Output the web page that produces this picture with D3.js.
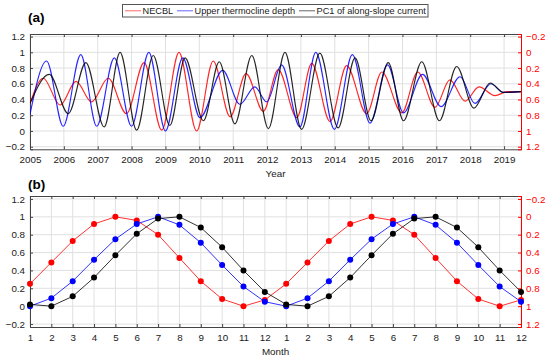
<!DOCTYPE html>
<html><head><meta charset="utf-8">
<script src="https://cdn.jsdelivr.net/npm/d3@7"></script>
<style>
body{margin:0;background:#fff;}
svg{display:block;font-family:"Liberation Sans",Arial,sans-serif;}
</style></head>
<body><svg id="c" width="550" height="361"></svg>
<script>
// ---------- Panel (a) data: extrema ----------
const redT   = [2005.0,2005.39,2005.89,2006.36,2006.82,2007.31,2007.85,2008.37,2008.89,2009.40,2009.92,2010.41,2010.91,2011.38,2011.89,2012.33,2012.88,2013.32,2013.86,2014.35,2014.94,2015.39,2015.98,2016.45,2016.96,2017.40,2017.85,2018.26,2018.73,2019.10,2019.5];
const redV   = [0.65,0.33,0.67,0.37,0.63,0.33,0.78,0.13,0.99,0.00,1.00,0.11,0.82,0.27,0.75,0.22,0.83,0.14,0.88,0.17,0.78,0.25,0.77,0.25,0.70,0.35,0.62,0.44,0.55,0.50,0.50]; // right axis (reversed)
const blueT  = [2005.0,2005.49,2005.98,2006.50,2006.97,2007.49,2008.00,2008.51,2009.00,2009.51,2010.02,2010.69,2011.20,2011.64,2011.99,2012.43,2012.97,2013.44,2013.99,2014.52,2015.04,2015.56,2016.03,2016.59,2017.14,2017.70,2018.14,2018.61,2018.98,2019.5];
const blueV  = [0.21,0.89,0.06,0.97,0.06,0.93,0.06,1.00,0.00,0.93,0.17,0.77,0.34,0.56,0.37,0.84,0.05,1.00,0.02,0.97,0.10,0.84,0.23,0.72,0.31,0.69,0.35,0.60,0.49,0.50];
const blackT = [2005.0,2005.57,2006.13,2006.65,2007.19,2007.66,2008.15,2008.64,2009.13,2009.58,2010.12,2010.59,2011.05,2011.55,2012.04,2012.53,2013.02,2013.56,2014.10,2014.60,2015.07,2015.58,2016.03,2016.57,2017.09,2017.60,2018.11,2018.59,2018.98,2019.5];
const blackV = [0.35,0.72,0.22,0.87,0.05,1.00,0.01,0.96,0.07,0.93,0.13,0.88,0.09,0.96,0.03,1.00,0.02,0.99,0.04,0.93,0.13,0.87,0.13,0.88,0.13,0.82,0.29,0.61,0.49,0.50];
const yearTicks = d3.range(2005, 2020);

// ---------- Panel (b) data: monthly climatology (shown twice) ----------
const monthLabels = [1,2,3,4,5,6,7,8,9,10,11,12,1,2,3,4,5,6,7,8,9,10,11,12];
const redM   = [0.75,0.51,0.27,0.08,0.00,0.04,0.20,0.46,0.72,0.92,1.00,0.93]; // right axis (reversed)
const blueM  = [0.00,0.09,0.28,0.52,0.75,0.92,1.00,0.91,0.71,0.46,0.22,0.05];
const blackM = [0.02,0.00,0.11,0.32,0.57,0.81,0.98,1.00,0.88,0.66,0.40,0.16];

const leftTicks  = [-0.2,0,0.2,0.4,0.6,0.8,1,1.2];
const rightTicks = [-0.2,0,0.2,0.4,0.6,0.8,1,1.2];
const legendItems = [
  {label:"NECBL", color:"#ff0000"},
  {label:"Upper thermocline depth", color:"#0000ff"},
  {label:"PC1 of along-slope current", color:"#000000"}
];

const svg = d3.select("#c");
const fmt = v => (v < 0 ? "\u2212" + Math.abs(v) : String(v));
const RED = "#ff0000";

function panel(cfg){
  const {x0,x1,y0,y1,xDomain,xTicks,xLabel,xFmt,title,titleY,axisLabelY} = cfg;
  const x = d3.scaleLinear().domain(xDomain).range([x0,x1]);
  const yL = d3.scaleLinear().domain([-0.233,1.233]).range([y1,y0]);
  const yR = d3.scaleLinear().domain([-0.233,1.233]).range([y0,y1]);
  const g = svg.append("g");
  g.selectAll(".gx").data(xTicks).join("line")
    .attr("x1",d=>x(d)).attr("x2",d=>x(d)).attr("y1",y0).attr("y2",y1)
    .attr("stroke","#e0e0e0").attr("stroke-width",1);
  g.selectAll(".gy").data(leftTicks).join("line")
    .attr("x1",x0).attr("x2",x1).attr("y1",d=>yL(d)).attr("y2",d=>yL(d))
    .attr("stroke","#e0e0e0").attr("stroke-width",1);
  const bx = d3.axisBottom(x).tickValues(xTicks).tickSize(-3).tickPadding(7).tickFormat(xFmt);
  const gb = g.append("g").attr("transform",`translate(0,${y1})`).call(bx);
  gb.select(".domain").attr("stroke","#444");
  gb.selectAll(".tick line").attr("stroke","#444");
  gb.selectAll("text").attr("font-size","9.8px").attr("fill","#1a1a1a");
  const tx = d3.axisTop(x).tickValues(xTicks).tickSize(-3).tickFormat("");
  const gt = g.append("g").attr("transform",`translate(0,${y0})`).call(tx);
  gt.select(".domain").attr("stroke","#444");
  gt.selectAll(".tick line").attr("stroke","#444");
  const la = d3.axisLeft(yL).tickValues(leftTicks).tickSize(-3).tickPadding(5).tickFormat(fmt);
  const gl = g.append("g").attr("transform",`translate(${x0},0)`).call(la);
  gl.select(".domain").attr("stroke","#444");
  gl.selectAll(".tick line").attr("stroke","#444");
  gl.selectAll("text").attr("font-size","9.8px").attr("fill","#1a1a1a");
  const ra = d3.axisRight(yR).tickValues(rightTicks).tickSize(-3).tickPadding(5).tickFormat(fmt);
  const gr = g.append("g").attr("transform",`translate(${x1},0)`).call(ra);
  gr.select(".domain").attr("stroke",RED);
  gr.selectAll(".tick line").attr("stroke",RED);
  gr.selectAll("text").attr("font-size","9.8px").attr("fill",RED);
  g.append("text").attr("x",(x0+x1)/2).attr("y",axisLabelY).attr("text-anchor","middle")
    .attr("font-size","9.8px").attr("fill","#1a1a1a").text(xLabel);
  g.append("text").attr("x",28).attr("y",titleY).attr("font-size","13.5px").attr("font-weight","bold")
    .attr("fill","#000").text(title);
  const clip = "clip"+title.replace(/\W/g,"");
  svg.append("clipPath").attr("id",clip).append("rect").attr("x",x0).attr("y",y0).attr("width",x1-x0).attr("height",y1-y0);
  return {g,x,yL,yR,clip};
}

// ---------- Panel (a) ----------
const A = panel({x0:30,x1:521,y0:34,y1:149.3,xDomain:[2005,2019.5],xTicks:yearTicks,
  xLabel:"Year",xFmt:d3.format("d"),title:"(a)",titleY:22,axisLabelY:177});
const seriesA = [
  {t:redT,v:redV,color:RED,scale:A.yR},
  {t:blueT,v:blueV,color:"#0000ff",scale:A.yL},
  {t:blackT,v:blackV,color:"#000000",scale:A.yL}
];
seriesA.forEach(s=>{
  const pts = s.t.map((t,i)=>[t,s.v[i]]);
  A.g.append("path").datum(pts)
    .attr("clip-path",`url(#${A.clip})`)
    .attr("fill","none").attr("stroke",s.color).attr("stroke-width",1.15).attr("stroke-opacity",0.85)
    .attr("d",d3.line().x(d=>A.x(d[0])).y(d=>s.scale(d[1])).curve(d3.curveMonotoneX));
});

// ---------- Panel (b) ----------
const B = panel({x0:30,x1:521,y0:196,y1:327,xDomain:[1,24],xTicks:d3.range(1,25),
  xLabel:"Month",xFmt:(d,i)=>String(monthLabels[i]),title:"(b)",titleY:189,axisLabelY:355});
const seriesB = [
  {v:redM.concat(redM),color:RED,scale:B.yR},
  {v:blueM.concat(blueM),color:"#0000ff",scale:B.yL},
  {v:blackM.concat(blackM),color:"#000000",scale:B.yL}
];
seriesB.forEach(s=>{
  const pts = s.v.map((v,i)=>[i+1,v]);
  B.g.append("path").datum(pts)
    .attr("fill","none").attr("stroke",s.color).attr("stroke-width",1).attr("stroke-opacity",0.8)
    .attr("d",d3.line().x(d=>B.x(d[0])).y(d=>s.scale(d[1])));
  B.g.selectAll(null).data(pts).join("circle")
    .attr("cx",d=>B.x(d[0])).attr("cy",d=>s.scale(d[1])).attr("r",3).attr("fill",s.color);
});

// ---------- Legend ----------
const lg = svg.append("g");
lg.append("rect").attr("x",122.5).attr("y",4.5).attr("width",305.5).attr("height",12.5)
  .attr("fill","#fff").attr("stroke","#555").attr("stroke-width",1);
const lx = [125,177,299];
legendItems.forEach((d,i)=>{
  lg.append("line").attr("x1",lx[i]).attr("x2",lx[i]+16).attr("y1",10.8).attr("y2",10.8)
    .attr("stroke",d.color).attr("stroke-width",1).attr("stroke-opacity",0.6);
  lg.append("text").attr("x",lx[i]+17.5).attr("y",14.2).attr("font-size","9.2px").attr("fill","#1a1a1a").text(d.label);
});
</script></body></html>
